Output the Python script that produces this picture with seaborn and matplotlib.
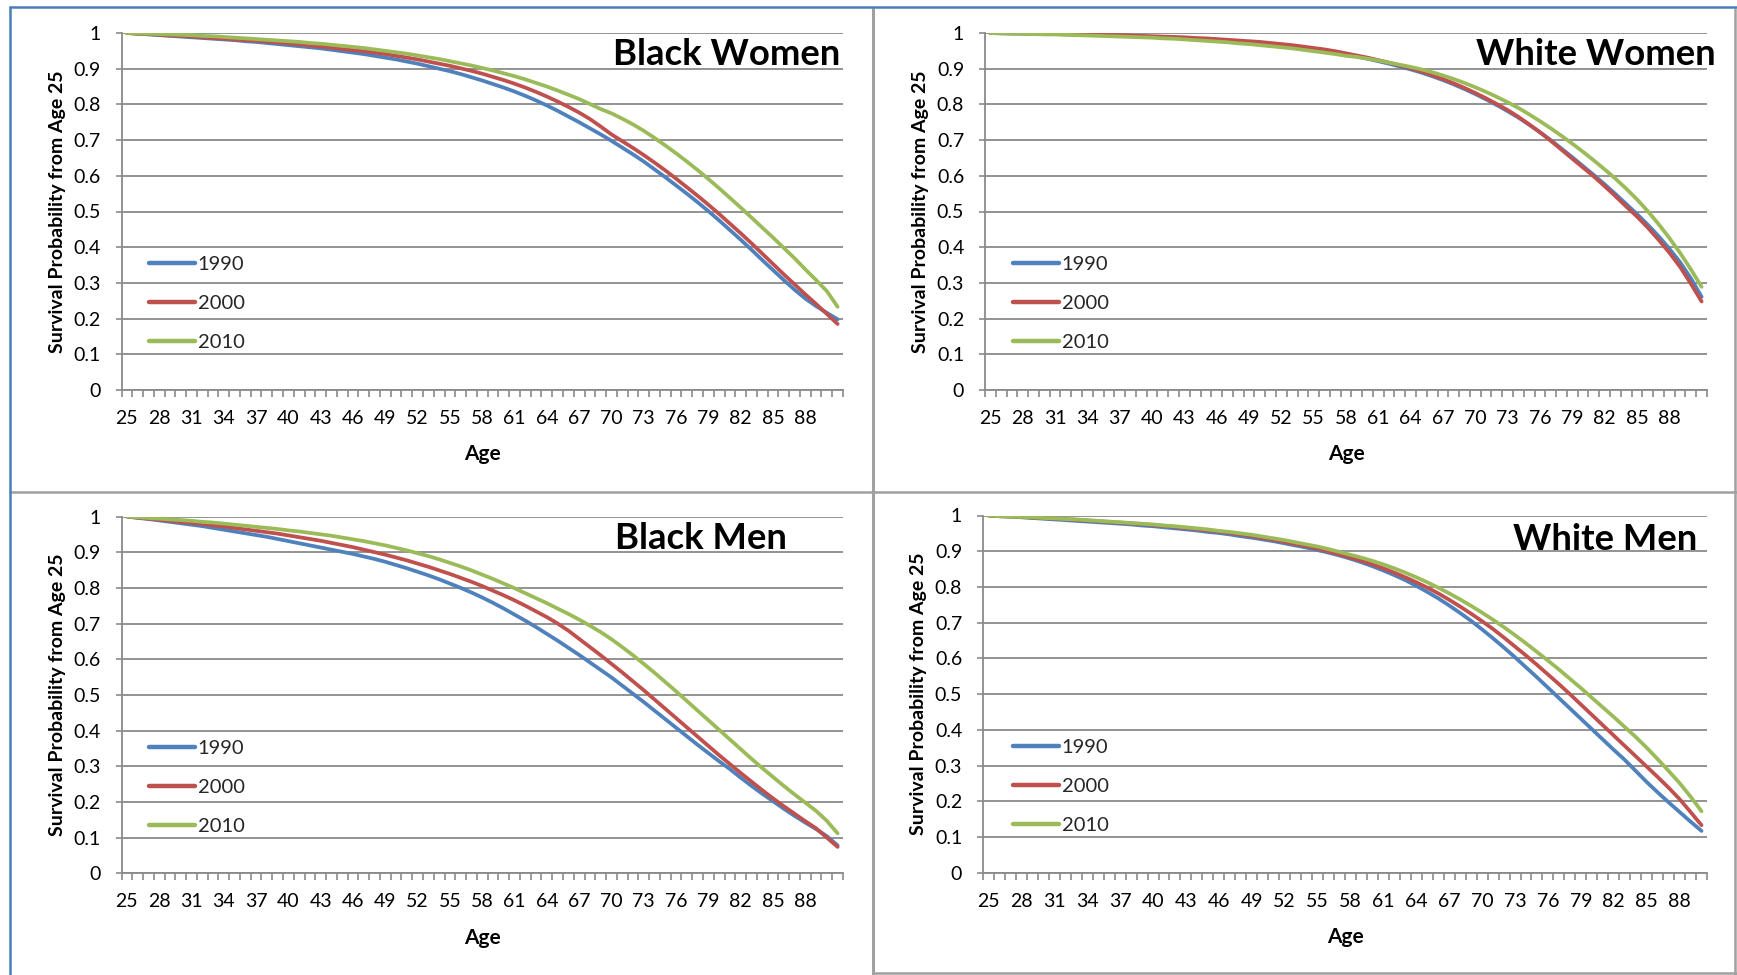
import numpy as np
import pandas as pd
import matplotlib
matplotlib.use('Agg')
import matplotlib.pyplot as plt
from matplotlib.lines import Line2D
import seaborn as sns

# figure size in pixels (dpi 100)
W, H = 1737, 975

# categories
ages_long = list(range(25, 92))    # 25..91
ages_short = list(range(25, 91))   # 25..90
tick_ages = list(range(25, 89, 3))
years = ['1990', '2000', '2010']
y_ticks = [0, 0.1, 0.2, 0.3, 0.4, 0.5, 0.6, 0.7, 0.8, 0.9, 1]
y_tick_labels = ['0', '0.1', '0.2', '0.3', '0.4', '0.5', '0.6', '0.7', '0.8', '0.9', '1']

# Black Women, ages 25..91
bw_1990 = [1.000, 0.998, 0.996, 0.994, 0.992, 0.990, 0.988, 0.986, 0.984, 0.982,
           0.980, 0.977, 0.975, 0.972, 0.969, 0.966, 0.963, 0.960, 0.957, 0.953,
           0.949, 0.945, 0.941, 0.936, 0.931, 0.926, 0.920, 0.914, 0.907, 0.900,
           0.893, 0.885, 0.876, 0.867, 0.857, 0.847, 0.836, 0.824, 0.811, 0.797,
           0.782, 0.766, 0.750, 0.733, 0.716, 0.698, 0.679, 0.660, 0.640, 0.618,
           0.596, 0.573, 0.550, 0.526, 0.501, 0.475, 0.448, 0.421, 0.393, 0.364,
           0.336, 0.308, 0.281, 0.256, 0.235, 0.216, 0.198]
bw_2000 = [1.000, 0.998, 0.997, 0.995, 0.993, 0.992, 0.990, 0.988, 0.986, 0.984,
           0.982, 0.980, 0.978, 0.976, 0.973, 0.971, 0.968, 0.965, 0.962, 0.959,
           0.955, 0.952, 0.949, 0.945, 0.941, 0.936, 0.931, 0.926, 0.920, 0.914,
           0.908, 0.901, 0.894, 0.886, 0.877, 0.868, 0.858, 0.847, 0.835, 0.822,
           0.808, 0.793, 0.777, 0.759, 0.738, 0.716, 0.697, 0.678, 0.658, 0.637,
           0.615, 0.592, 0.568, 0.544, 0.519, 0.493, 0.466, 0.439, 0.411, 0.382,
           0.353, 0.324, 0.296, 0.268, 0.241, 0.213, 0.185]
bw_2010 = [1.000, 0.999, 0.998, 0.997, 0.996, 0.995, 0.994, 0.992, 0.991, 0.989,
           0.987, 0.985, 0.983, 0.981, 0.979, 0.977, 0.975, 0.972, 0.970, 0.967,
           0.964, 0.961, 0.958, 0.954, 0.950, 0.946, 0.942, 0.937, 0.932, 0.927,
           0.921, 0.915, 0.909, 0.902, 0.895, 0.887, 0.879, 0.870, 0.860, 0.850,
           0.839, 0.827, 0.815, 0.801, 0.787, 0.775, 0.760, 0.744, 0.726, 0.706,
           0.685, 0.663, 0.640, 0.616, 0.591, 0.565, 0.538, 0.511, 0.483, 0.455,
           0.427, 0.398, 0.369, 0.338, 0.308, 0.277, 0.233]

# White Women, ages 25..91
ww_1990 = [1.000, 0.999, 0.999, 0.998, 0.998, 0.997, 0.997, 0.996, 0.995, 0.995,
           0.994, 0.993, 0.992, 0.991, 0.990, 0.989, 0.988, 0.986, 0.985, 0.983,
           0.981, 0.979, 0.977, 0.975, 0.972, 0.970, 0.967, 0.964, 0.961, 0.957,
           0.953, 0.949, 0.944, 0.939, 0.934, 0.928, 0.921, 0.914, 0.906, 0.898,
           0.889, 0.879, 0.868, 0.856, 0.843, 0.829, 0.814, 0.798, 0.781, 0.763,
           0.743, 0.722, 0.700, 0.676, 0.652, 0.627, 0.602, 0.576, 0.549, 0.521,
           0.493, 0.463, 0.431, 0.396, 0.358, 0.313, 0.261]
ww_2000 = [1.000, 1.000, 0.999, 0.999, 0.998, 0.998, 0.997, 0.997, 0.996, 0.996,
           0.995, 0.995, 0.994, 0.993, 0.992, 0.991, 0.990, 0.989, 0.988, 0.986,
           0.985, 0.983, 0.981, 0.979, 0.977, 0.975, 0.972, 0.969, 0.966, 0.962,
           0.958, 0.954, 0.949, 0.943, 0.937, 0.931, 0.924, 0.917, 0.909, 0.901,
           0.892, 0.882, 0.871, 0.859, 0.846, 0.832, 0.817, 0.801, 0.784, 0.765,
           0.744, 0.722, 0.698, 0.673, 0.648, 0.623, 0.598, 0.571, 0.543, 0.514,
           0.486, 0.455, 0.421, 0.385, 0.345, 0.298, 0.248]
ww_2010 = [1.000, 0.999, 0.998, 0.998, 0.997, 0.996, 0.996, 0.995, 0.994, 0.993,
           0.992, 0.991, 0.990, 0.989, 0.988, 0.987, 0.985, 0.984, 0.982, 0.980,
           0.978, 0.976, 0.974, 0.971, 0.969, 0.966, 0.963, 0.960, 0.957, 0.953,
           0.949, 0.945, 0.941, 0.936, 0.933, 0.928, 0.923, 0.917, 0.911, 0.905,
           0.898, 0.890, 0.881, 0.871, 0.860, 0.848, 0.835, 0.821, 0.806, 0.790,
           0.772, 0.753, 0.733, 0.712, 0.690, 0.667, 0.643, 0.618, 0.592, 0.564,
           0.534, 0.501, 0.465, 0.426, 0.384, 0.338, 0.289]

# Black Men, ages 25..91
bm_1990 = [1.000, 0.996, 0.993, 0.989, 0.985, 0.981, 0.977, 0.973, 0.968, 0.963,
           0.958, 0.953, 0.948, 0.943, 0.937, 0.931, 0.925, 0.919, 0.913, 0.907,
           0.901, 0.895, 0.888, 0.881, 0.873, 0.864, 0.855, 0.845, 0.835, 0.824,
           0.812, 0.800, 0.787, 0.773, 0.758, 0.742, 0.725, 0.708, 0.690, 0.671,
           0.652, 0.632, 0.612, 0.591, 0.570, 0.549, 0.526, 0.503, 0.480, 0.456,
           0.432, 0.408, 0.384, 0.360, 0.337, 0.314, 0.292, 0.268, 0.245, 0.223,
           0.202, 0.181, 0.161, 0.142, 0.124, 0.104, 0.078]
bm_2000 = [1.000, 0.997, 0.994, 0.991, 0.988, 0.985, 0.982, 0.979, 0.975, 0.972,
           0.968, 0.964, 0.960, 0.956, 0.952, 0.947, 0.942, 0.937, 0.932, 0.926,
           0.920, 0.914, 0.907, 0.900, 0.893, 0.885, 0.877, 0.868, 0.859, 0.849,
           0.839, 0.828, 0.817, 0.805, 0.792, 0.779, 0.765, 0.750, 0.734, 0.718,
           0.700, 0.680, 0.657, 0.634, 0.611, 0.587, 0.563, 0.538, 0.513, 0.487,
           0.461, 0.435, 0.409, 0.383, 0.357, 0.331, 0.306, 0.281, 0.257, 0.233,
           0.210, 0.188, 0.167, 0.146, 0.126, 0.100, 0.074]
bm_2010 = [1.000, 0.998, 0.996, 0.994, 0.992, 0.990, 0.988, 0.985, 0.983, 0.980,
           0.977, 0.974, 0.971, 0.968, 0.965, 0.961, 0.958, 0.954, 0.950, 0.946,
           0.941, 0.936, 0.931, 0.925, 0.919, 0.912, 0.905, 0.897, 0.889, 0.880,
           0.870, 0.860, 0.849, 0.837, 0.825, 0.812, 0.799, 0.785, 0.771, 0.757,
           0.742, 0.727, 0.711, 0.694, 0.676, 0.656, 0.634, 0.611, 0.587, 0.562,
           0.536, 0.510, 0.483, 0.456, 0.429, 0.402, 0.375, 0.348, 0.321, 0.295,
           0.270, 0.245, 0.221, 0.198, 0.175, 0.147, 0.112]

# White Men, ages 25..90
wm_1990 = [1.000, 0.998, 0.997, 0.995, 0.993, 0.991, 0.989, 0.987, 0.985, 0.983,
           0.981, 0.979, 0.977, 0.975, 0.972, 0.970, 0.967, 0.964, 0.961, 0.958,
           0.954, 0.951, 0.947, 0.942, 0.938, 0.933, 0.928, 0.922, 0.916, 0.910,
           0.903, 0.896, 0.888, 0.879, 0.869, 0.858, 0.846, 0.833, 0.819, 0.803,
           0.786, 0.768, 0.748, 0.727, 0.705, 0.681, 0.656, 0.630, 0.603, 0.575,
           0.547, 0.518, 0.489, 0.460, 0.431, 0.402, 0.373, 0.344, 0.316, 0.285,
           0.254, 0.225, 0.197, 0.170, 0.143, 0.117]
wm_2000 = [1.000, 0.998, 0.997, 0.996, 0.994, 0.993, 0.991, 0.990, 0.988, 0.986,
           0.984, 0.982, 0.980, 0.978, 0.976, 0.973, 0.971, 0.968, 0.965, 0.962,
           0.958, 0.955, 0.951, 0.947, 0.942, 0.937, 0.932, 0.926, 0.920, 0.914,
           0.907, 0.899, 0.891, 0.882, 0.873, 0.863, 0.852, 0.840, 0.827, 0.813,
           0.798, 0.782, 0.764, 0.745, 0.725, 0.704, 0.682, 0.658, 0.633, 0.608,
           0.582, 0.555, 0.528, 0.500, 0.471, 0.442, 0.413, 0.384, 0.355, 0.326,
           0.297, 0.268, 0.238, 0.206, 0.170, 0.133]
wm_2010 = [1.000, 0.998, 0.997, 0.996, 0.995, 0.993, 0.992, 0.990, 0.989, 0.987,
           0.985, 0.983, 0.981, 0.979, 0.977, 0.975, 0.972, 0.970, 0.967, 0.964,
           0.961, 0.957, 0.954, 0.950, 0.946, 0.941, 0.936, 0.931, 0.925, 0.919,
           0.913, 0.906, 0.898, 0.890, 0.882, 0.873, 0.863, 0.852, 0.840, 0.827,
           0.813, 0.798, 0.782, 0.765, 0.747, 0.728, 0.708, 0.687, 0.665, 0.642,
           0.618, 0.594, 0.569, 0.543, 0.517, 0.490, 0.463, 0.436, 0.408, 0.380,
           0.350, 0.318, 0.285, 0.251, 0.213, 0.172]

sns.set_theme(style='white')
plt.rcParams['font.family'] = ['Lato', 'DejaVu Sans']

palette = {'1990': '#4F81BD', '2000': '#C0504D', '2010': '#9BBB59'}
grid_c = '#8A8A8A'

# panel boxes in pixels: left, right, top, bottom of plot area
panels = [
    dict(title='Black Women', ages=ages_long, data=[bw_1990, bw_2000, bw_2010],
         box=(121.5, 843, 33, 390), title_xy=(840, 65), leg_xy=(149, 262.7)),
    dict(title='White Women', ages=ages_long, data=[ww_1990, ww_2000, ww_2010],
         box=(985, 1707, 33, 390), title_xy=(1716, 65), leg_xy=(1013, 262.7)),
    dict(title='Black Men', ages=ages_long, data=[bm_1990, bm_2000, bm_2010],
         box=(121.5, 843, 516.5, 873.3), title_xy=(787, 549), leg_xy=(149, 746.7)),
    dict(title='White Men', ages=ages_short, data=[wm_1990, wm_2000, wm_2010],
         box=(983, 1707, 515.5, 872.7), title_xy=(1697, 550), leg_xy=(1013, 745.5)),
]

fig = plt.figure(figsize=(W / 100, H / 100), dpi=100)

for p in panels:
    l, r, t, b = p['box']
    ax = fig.add_axes([l / W, 1 - b / H, (r - l) / W, (b - t) / H])
    ages = p['ages']
    df = pd.DataFrame({
        'Age': np.tile(ages, 3),
        'prob': np.concatenate(p['data']),
        'year': np.repeat(years, len(ages)),
    })
    sns.lineplot(data=df, x='Age', y='prob', hue='year', palette=palette,
                 linewidth=2.7, ax=ax, legend=False)
    for ln in ax.lines:
        ln.set_solid_capstyle('round')

    ax.set_xlim(ages[0] - 0.5, ages[-1] + 0.5)
    ax.set_ylim(0, 1)
    ax.set_yticks(y_ticks)
    ax.set_yticklabels(y_tick_labels)
    ax.yaxis.grid(True, color=grid_c, linewidth=1.3)
    ax.xaxis.grid(False)

    # tick marks between categories, labels every third category
    ax.set_xticks(np.arange(ages[0] - 0.5, ages[-1] + 1, 1))
    ax.set_xticklabels([])
    ax.set_xticks(tick_ages, minor=True)
    ax.set_xticklabels([str(a) for a in tick_ages], minor=True)
    ax.tick_params(axis='x', which='major', bottom=True, length=4.8, width=1.2,
                   color=grid_c, direction='out')
    ax.tick_params(axis='x', which='minor', bottom=True, length=0, pad=14.5,
                   labelsize=14, labelcolor='black')
    ax.tick_params(axis='y', left=True, length=4.5, width=1.2, color=grid_c,
                   pad=10.5, labelsize=14, labelcolor='black')

    for s in ['top', 'right']:
        ax.spines[s].set_visible(False)
    for s in ['left', 'bottom']:
        ax.spines[s].set_color(grid_c)
        ax.spines[s].set_linewidth(1.3)

    ax.set_xlabel('Age', fontsize=15, fontweight='bold', color='black', labelpad=12.5)
    ax.set_ylabel('Survival Probability from Age 25', fontsize=14,
                  fontweight='bold', color='black', labelpad=5.5)

    handles = [Line2D([], [], color=palette[y], linewidth=3.2, solid_capstyle='round')
               for y in years]
    lx, ly = p['leg_xy']
    ax.legend(handles, years, loc='upper left',
              bbox_to_anchor=((lx - l) / (r - l), (b - (ly - 7)) / (b - t)),
              frameon=False, fontsize=14.5, handlelength=2.3, handletextpad=0.12,
              labelspacing=1.1, borderpad=0, borderaxespad=0)

    tx, ty = p['title_xy']
    fig.text(tx / W, 1 - ty / H, p['title'], ha='right', va='baseline',
             fontsize=26.3, fontweight='bold', color='black')

# panel frame lines
def fig_line(x0, y0, x1, y1, color, lw):
    fig.add_artist(Line2D([x0 / W, x1 / W], [1 - y0 / H, 1 - y1 / H],
                          color=color, linewidth=lw, transform=fig.transFigure))

frame_gray = '#A0A0A0'
frame_blue = '#4A7EBB'
fig_line(873, 9, 873, 975, frame_gray, 2.2)
fig_line(10, 492, 1737, 492, frame_gray, 1.8)
fig_line(1735, 9, 1735, 975, frame_gray, 1.8)
fig_line(873, 973, 1737, 973, frame_gray, 1.8)
fig_line(10, 7, 1737, 7, frame_blue, 1.8)
fig_line(10, 7, 10, 975, frame_blue, 1.8)

fig.savefig('out.png', dpi=100)
